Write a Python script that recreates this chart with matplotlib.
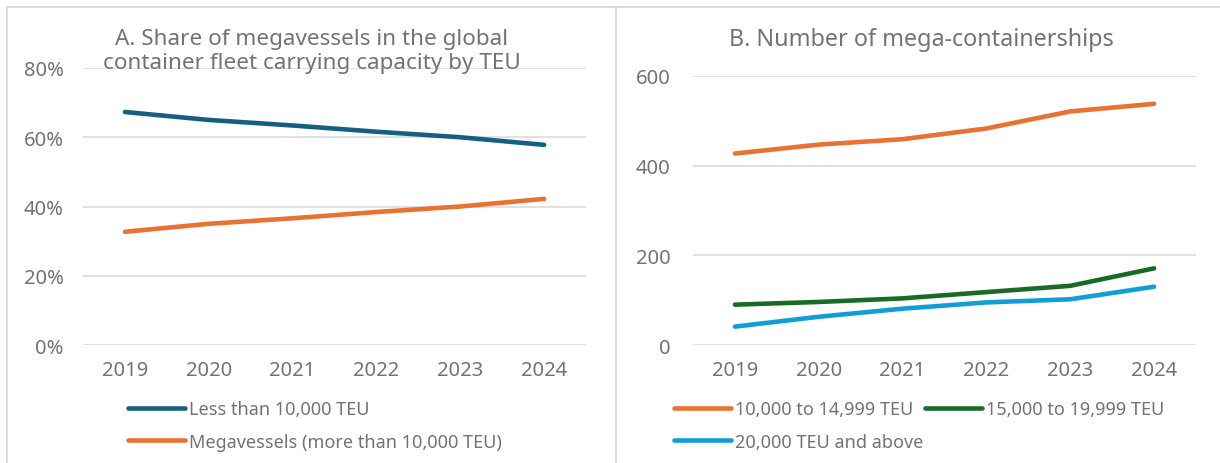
import matplotlib
matplotlib.use("Agg")
import matplotlib.pyplot as plt
from matplotlib.patches import Rectangle
from matplotlib.ticker import FuncFormatter

plt.rcParams['font.family'] = ['Noto Sans', 'DejaVu Sans']

years = ["2019", "2020", "2021", "2022", "2023", "2024"]

# Panel A: share of global container fleet carrying capacity (%)
share_small = [67.3, 65.0, 63.4, 61.6, 60.0, 57.8]
share_mega = [32.7, 35.0, 36.6, 38.4, 40.0, 42.2]
labels_a = ["Less than 10,000 TEU", "Megavessels (more than 10,000 TEU)"]

# Panel B: number of mega-containerships
n_10_15 = [427, 447, 459, 483, 521, 538]
n_15_20 = [90, 96, 104, 118, 132, 171]
n_20_up = [41, 63, 81, 95, 102, 130]
labels_b = ["10,000 to 14,999 TEU", "15,000 to 19,999 TEU", "20,000 TEU and above"]

C_BLUE = "#156082"
C_ORANGE = "#E97132"
C_GREEN = "#196B24"
C_LBLUE = "#0F9ED5"
TXT = "#737373"
GRID = "#D9D9D9"

W, H = 1220, 464
fig = plt.figure(figsize=(W / 100, H / 100), dpi=100)


def px_axes(x0, y_top, x1, y_bot):
    return fig.add_axes([x0 / W, 1 - y_bot / H, (x1 - x0) / W, (y_bot - y_top) / H])


# panel borders
fig.patches.append(Rectangle((7 / W, -0.05), (616 - 7) / W, 1.05 - 8 / H,
                             transform=fig.transFigure, fill=False,
                             edgecolor="#D9D9D9", lw=1.3))
fig.patches.append(Rectangle((616 / W, -0.05), 1.0, 1.05 - 8 / H,
                             transform=fig.transFigure, fill=False,
                             edgecolor="#D9D9D9", lw=1.3))

TICK_FS = 14.5
LEG_FS = 13
TITLE_FS = 16.2


def style(ax, ypad):
    for s in ax.spines.values():
        s.set_visible(False)
    ax.tick_params(axis="both", length=0, colors=TXT, labelsize=TICK_FS)
    ax.tick_params(axis="y", pad=ypad)
    ax.tick_params(axis="x", pad=11)
    ax.grid(axis="y", color=GRID, lw=1.1)
    ax.set_axisbelow(True)
    ax.set_xlim(-0.5, len(years) - 0.5)
    ax.set_xticks(range(len(years)))
    ax.set_xticklabels(years)
    ax.patch.set_alpha(0)


LW = 3.3
# Panel A
axA = px_axes(83, 69, 586, 346)
x = range(len(years))
hA1, = axA.plot(x, share_small, color=C_BLUE, lw=LW, solid_capstyle="round")
hA2, = axA.plot(x, share_mega, color=C_ORANGE, lw=LW, solid_capstyle="round")
axA.set_ylim(0, 80)
axA.set_yticks([0, 20, 40, 60, 80])
axA.yaxis.set_major_formatter(FuncFormatter(lambda v, p: f"{v:.0f}%"))
style(axA, 14)
fig.text(312 / W, 1 - 39 / H, "A. Share of megavessels in the global",
         ha="center", va="center", color=TXT, fontsize=TITLE_FS)
fig.text(312 / W, 1 - 64 / H, "container fleet carrying capacity by TEU",
         ha="center", va="center", color=TXT, fontsize=TITLE_FS)

# Panel B
axB = px_axes(693, 77, 1196, 346)
hB1, = axB.plot(x, n_10_15, color=C_ORANGE, lw=LW, solid_capstyle="round")
hB2, = axB.plot(x, n_15_20, color=C_GREEN, lw=LW, solid_capstyle="round")
hB3, = axB.plot(x, n_20_up, color=C_LBLUE, lw=LW, solid_capstyle="round")
axB.set_ylim(0, 600)
axB.set_yticks([0, 200, 400, 600])
style(axB, 16)
fig.text(921 / W, 1 - 40 / H, "B. Number of mega-containerships",
         ha="center", va="center", color=TXT, fontsize=TITLE_FS + 0.6)

leg_kw = dict(frameon=False, fontsize=LEG_FS, labelcolor=TXT, handlelength=3.15,
              handletextpad=0.22, labelspacing=0.82, borderpad=0,
              borderaxespad=0, columnspacing=0.1, loc="upper left")
fig.legend([hA1, hA2], labels_a, bbox_to_anchor=(128 / W, 1 - 401 / H), **leg_kw)
fig.legend([hB1, hB3, hB2], [labels_b[0], labels_b[2], labels_b[1]], ncol=2,
           bbox_to_anchor=(674 / W, 1 - 401 / H), **leg_kw)

fig.savefig("out.png", dpi=100)
